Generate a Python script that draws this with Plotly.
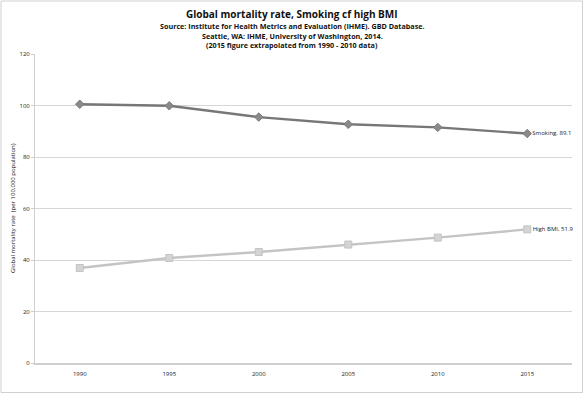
import plotly.graph_objects as go

years = ["1990", "1995", "2000", "2005", "2010", "2015"]
smoking = [100.5, 99.9, 95.5, 92.7, 91.5, 89.1]
high_bmi = [36.9, 40.8, 43.1, 46.0, 48.7, 51.9]
y_ticks = [0, 20, 40, 60, 80, 100, 120]

FONT = "Open Sans"
W, H = 584, 395
ML, MR, MT, MB = 35, 12, 54, 32

def end_labels(name, vals):
    return [""] * (len(vals) - 1) + [f"{name}, {vals[-1]}"]

fig = go.Figure()
fig.add_trace(go.Scatter(
    x=years, y=smoking, mode="lines+markers+text", name="Smoking",
    line=dict(color="#777777", width=2.4),
    marker=dict(symbol="diamond", size=6.5, color="#8a8a8a", line=dict(color="#7a7a7a", width=1)),
    text=end_labels("Smoking", smoking), textposition="middle right",
    textfont=dict(family=FONT, size=6, color="#222222"), cliponaxis=False,
))
fig.add_trace(go.Scatter(
    x=years, y=high_bmi, mode="lines+markers+text", name="High BMI",
    line=dict(color="#c4c4c4", width=2.4),
    marker=dict(symbol="square", size=7, color="#d4d4d4", line=dict(color="#c4c4c4", width=1)),
    text=end_labels("High BMI", high_bmi), textposition="middle right",
    textfont=dict(family=FONT, size=6, color="#222222"), cliponaxis=False,
))

fig.update_layout(
    width=W, height=H,
    margin=dict(l=ML, r=MR, t=MT, b=MB, autoexpand=False),
    paper_bgcolor="white", plot_bgcolor="white",
    showlegend=False,
    font=dict(family=FONT, color="#333333"),
    xaxis=dict(
        type="category", range=[-0.5, 5.5], automargin=False,
        showline=True, linecolor="#cfcfcf", linewidth=2,
        showgrid=False, ticks="", tickfont=dict(size=6, color="#222222"),
        ticklabelstandoff=4,
    ),
    yaxis=dict(
        range=[0, 120], tickvals=y_ticks, automargin=False,
        showline=True, linecolor="#cfcfcf", linewidth=1,
        showgrid=True, gridcolor="#d6d6d6", gridwidth=1,
        zeroline=False, ticks="outside", ticklen=3, tickcolor="#cfcfcf",
        tickfont=dict(size=6, color="#222222"),
    ),
)

def px_to_paper_x(px):
    return (px - ML) / (W - ML - MR)

def px_to_paper_y(py):
    return (H - MB - py) / (H - MT - MB)

title_lines = [
    ("<b>Global mortality rate, Smoking cf high BMI</b>", 14.5, 10),
    ("<b>Source: Institute for Health Metrics and Evaluation (IHME). GBD Database.</b>", 25.5, 7.2),
    ("<b>Seattle, WA: IHME, University of Washington, 2014.</b>", 35.5, 7.2),
    ("<b>(2015 figure extrapolated from 1990 - 2010 data)</b>", 45.5, 7.2),
]
for txt, py, sz in title_lines:
    fig.add_annotation(text=txt, x=px_to_paper_x(292), y=px_to_paper_y(py),
                       xref="paper", yref="paper", showarrow=False,
                       xanchor="center", yanchor="middle",
                       font=dict(family=FONT, size=sz, color="#111111"))

fig.add_annotation(text="Global mortality rate  (per 100,000 population)",
                   x=px_to_paper_x(13), y=px_to_paper_y(208),
                   xref="paper", yref="paper", showarrow=False, textangle=-90,
                   xanchor="center", yanchor="middle",
                   font=dict(family=FONT, size=6, color="#111111"))

# outer chart frame
fig.add_shape(type="rect", xref="paper", yref="paper",
              x0=px_to_paper_x(1), x1=px_to_paper_x(582.5),
              y0=px_to_paper_y(392.5), y1=px_to_paper_y(1),
              line=dict(color="#d0d0d0", width=1), layer="below")

fig.write_html("out.html", config={"displayModeBar": False},
               post_script="document.body.style.margin='0px';document.body.style.padding='0px';")
